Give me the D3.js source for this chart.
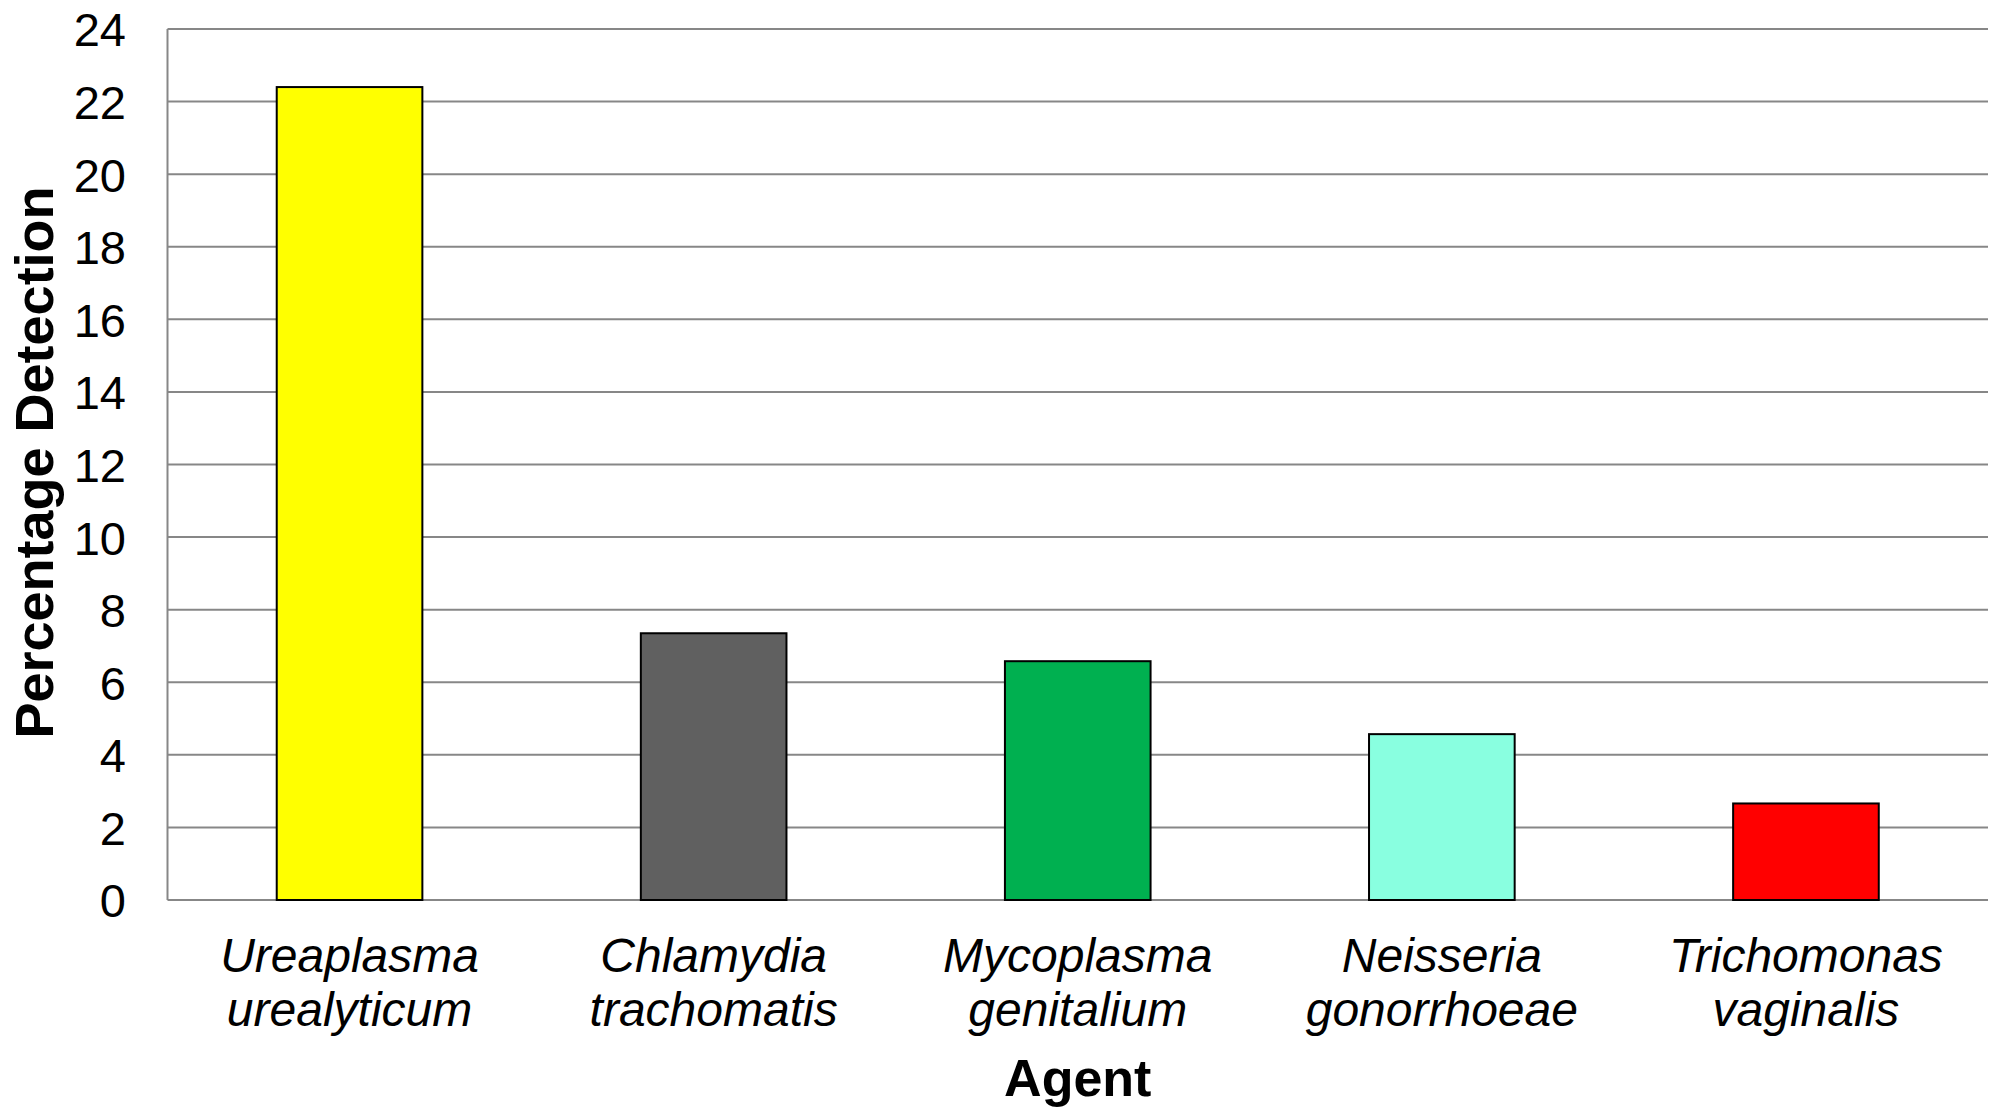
<!DOCTYPE html>
<html>
<head>
<meta charset="utf-8">
<script src="https://cdn.jsdelivr.net/npm/d3@7"></script>
<style>
  html, body { margin: 0; padding: 0; background: #ffffff; }
  svg { display: block; font-family: "Liberation Sans", Arial, sans-serif; }
</style>
</head>
<body>
<svg id="chart" width="1998" height="1110"></svg>
<script>
// Detection rate (%) per agent
const agentLine1 = ["Ureaplasma", "Chlamydia", "Mycoplasma", "Neisseria", "Trichomonas"];
const agentLine2 = ["urealyticum", "trachomatis", "genitalium", "gonorrhoeae", "vaginalis"];
const detection = [22.4, 7.35, 6.58, 4.57, 2.66];
const barColors = ["#FFFF00", "#606060", "#00B050", "#89FFE0", "#FF0000"];
const yTicks = [0, 2, 4, 6, 8, 10, 12, 14, 16, 18, 20, 22, 24];

const agents = agentLine1.map((d, i) => d + " " + agentLine2[i]);

const svg = d3.select("#chart");
const plotLeft = 167.5, plotRight = 1988, plotTop = 29, plotBottom = 900;

const x = d3.scaleBand()
  .domain(agents)
  .range([plotLeft, plotRight])
  .paddingInner(0.6)
  .paddingOuter(0.3);

const y = d3.scaleLinear()
  .domain([0, 24])
  .range([plotBottom, plotTop]);

// horizontal gridlines
svg.append("g")
  .selectAll("line")
  .data(yTicks)
  .join("line")
  .attr("x1", plotLeft)
  .attr("x2", plotRight)
  .attr("y1", d => y(d))
  .attr("y2", d => y(d))
  .attr("stroke", "#878787")
  .attr("stroke-width", 2);

// vertical axis line
svg.append("line")
  .attr("x1", plotLeft).attr("x2", plotLeft)
  .attr("y1", y(24)).attr("y2", y(0))
  .attr("stroke", "#878787")
  .attr("stroke-width", 2);

// y tick labels
const yAxis = d3.axisLeft(y).tickValues(yTicks).tickSize(0).tickPadding(0).tickFormat(d3.format("d"));
const gy = svg.append("g")
  .attr("transform", "translate(126,0)")
  .call(yAxis);
gy.select(".domain").remove();
gy.selectAll("text")
  .attr("font-size", 47)
  .attr("font-family", "'Liberation Sans', Arial, sans-serif")
  .attr("fill", "#000")
  .attr("dy", "0.36em");

// bars
svg.append("g")
  .selectAll("rect")
  .data(agents)
  .join("rect")
  .attr("x", d => x(d))
  .attr("width", x.bandwidth())
  .attr("y", (d, i) => y(detection[i]))
  .attr("height", (d, i) => y(0) - y(detection[i]))
  .attr("fill", (d, i) => barColors[i])
  .attr("stroke", "#000")
  .attr("stroke-width", 2);

// category labels (two lines, italic)
const cat = svg.append("g")
  .selectAll("text")
  .data(agents)
  .join("text")
  .attr("x", d => x(d) + x.bandwidth() / 2)
  .attr("y", 972)
  .attr("text-anchor", "middle")
  .attr("font-size", 48)
  .attr("font-style", "italic")
  .attr("fill", "#000");
cat.append("tspan")
  .attr("x", d => x(d) + x.bandwidth() / 2)
  .text((d, i) => agentLine1[i]);
cat.append("tspan")
  .attr("x", d => x(d) + x.bandwidth() / 2)
  .attr("dy", 54)
  .text((d, i) => agentLine2[i]);

// axis titles
svg.append("text")
  .attr("x", (plotLeft + plotRight) / 2)
  .attr("y", 1096)
  .attr("text-anchor", "middle")
  .attr("font-size", 52)
  .attr("font-weight", "bold")
  .attr("fill", "#000")
  .text("Agent");

svg.append("text")
  .attr("transform", `translate(53,${(plotTop + plotBottom) / 2 - 2}) rotate(-90)`)
  .attr("text-anchor", "middle")
  .attr("font-size", 54)
  .attr("font-weight", "bold")
  .attr("fill", "#000")
  .text("Percentage Detection");
</script>
</body>
</html>
